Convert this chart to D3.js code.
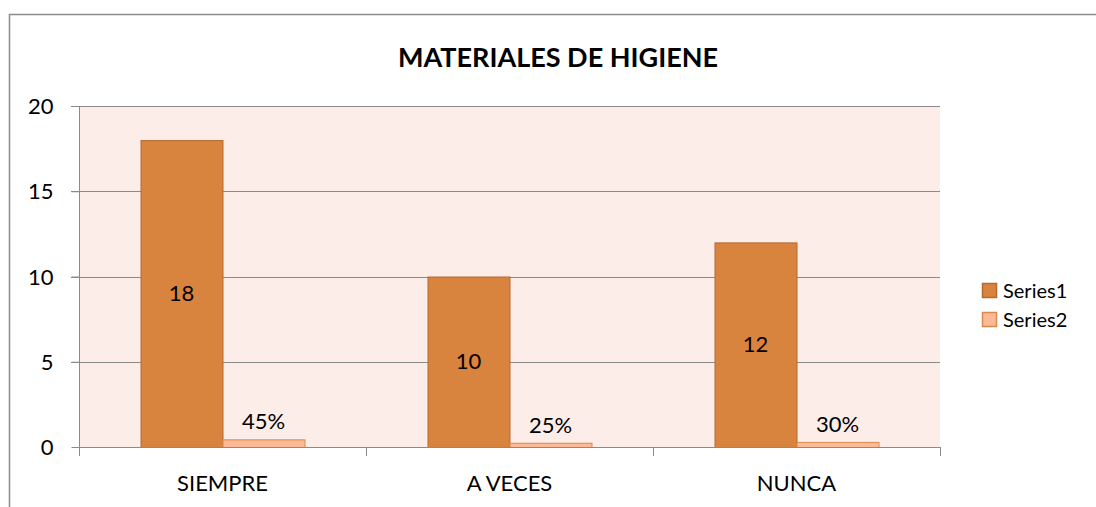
<!DOCTYPE html>
<html><head><meta charset="utf-8">
<script src="https://cdn.jsdelivr.net/npm/d3@7"></script>
<style>body{margin:0;background:#fff}svg{display:block}text{font-family:Lato,"Open Sans",sans-serif}</style>
</head><body><svg id="c" width="1096" height="507"></svg>
<script>
const categories = ["SIEMPRE", "A VECES", "NUNCA"];
const series1 = [18, 10, 12];
const series2 = [0.45, 0.25, 0.30];
const seriesNames = ["Series1", "Series2"];
const yTicks = [0, 5, 10, 15, 20];
const title = "MATERIALES DE HIGIENE";

const svg = d3.select("#c");
const m = {l: 79, r: 940, t: 106, b: 447};
const colors = ["#D9843E", "#FBB995"];
const strokes = ["#B5692F", "#D98A4E"];
const FS = 22;

svg.append("rect").attr("x", 9.5).attr("y", 14.5).attr("width", 1100).attr("height", 520)
  .attr("fill", "#fff").attr("stroke", "#8c8c8c").attr("stroke-width", 1.5);

const x = d3.scaleBand().domain(categories).range([m.l, m.r]).paddingInner(0).paddingOuter(0);
const y = d3.scaleLinear().domain([0, 20]).range([m.b, m.t]);
const x2 = d3.scaleBand().domain([0, 1]).range([0, x.bandwidth()]).paddingInner(0).paddingOuter(0.75);

svg.append("rect").attr("x", m.l).attr("y", m.t).attr("width", m.r - m.l).attr("height", m.b - m.t).attr("fill", "#FCEDE8");

svg.append("g").selectAll("line").data(yTicks.filter(d => d > 0)).join("line")
  .attr("x1", m.l - 8).attr("x2", m.r).attr("y1", d => Math.round(y(d)) + 0.5).attr("y2", d => Math.round(y(d)) + 0.5)
  .attr("stroke", "#8a8a8a").attr("stroke-width", 1);

const ya = svg.append("g").attr("transform", `translate(${m.l + 0.5},0)`)
  .call(d3.axisLeft(y).tickValues(yTicks).tickSize(8).tickPadding(18));
ya.select(".domain").remove();
ya.selectAll("line").attr("stroke", "#8a8a8a");
ya.selectAll("text").attr("font-size", FS).attr("font-family", "Lato").attr("fill", "#000").attr("dy", "0.35em");
svg.append("line").attr("x1", m.l + 0.5).attr("x2", m.l + 0.5).attr("y1", m.t).attr("y2", m.b + 8)
  .attr("stroke", "#8a8a8a");

const data = categories.map((c, i) => ({c, v: [series1[i], series2[i]]}));
const g = svg.append("g");
data.forEach(d => {
  d.v.forEach((v, s) => {
    const bx = x(d.c) + x2(s);
    g.append("rect").attr("x", bx + 0.5).attr("y", y(v) + 0.5).attr("width", x2.bandwidth()).attr("height", y(0) - y(v))
      .attr("fill", colors[s]).attr("stroke", strokes[s]).attr("stroke-width", 1);
    if (s === 0) {
      g.append("text").attr("x", bx + x2.bandwidth() / 2).attr("y", (y(v) + y(0)) / 2).attr("dy", "0.35em")
        .attr("text-anchor", "middle").attr("font-size", FS).text(v);
    } else {
      g.append("text").attr("x", bx + x2.bandwidth() / 2).attr("y", y(v) - 10)
        .attr("text-anchor", "middle").attr("font-size", FS).text(d3.format(".0%")(v));
    }
  });
});

svg.append("line").attr("x1", m.l).attr("x2", m.r + 1).attr("y1", m.b + 0.5).attr("y2", m.b + 0.5).attr("stroke", "#8a8a8a");
const xt = categories.map(c => x(c)).concat([m.r]);
svg.append("g").selectAll("line").data(xt).join("line")
  .attr("x1", d => Math.round(d) + 0.5).attr("x2", d => Math.round(d) + 0.5).attr("y1", m.b).attr("y2", m.b + 9)
  .attr("stroke", "#8a8a8a");
svg.append("g").selectAll("text").data(categories).join("text")
  .attr("x", d => x(d) + x.bandwidth() / 2).attr("y", 491).attr("text-anchor", "middle").attr("font-size", FS).text(d => d);

svg.append("text").attr("x", 558).attr("y", 67).attr("text-anchor", "middle").attr("font-size", 27)
  .attr("font-weight", "bold").text(title);

const lg = svg.append("g");
seriesNames.forEach((n, i) => {
  const ly = 291 + i * 29;
  lg.append("rect").attr("x", 982.5).attr("y", ly - 7.5).attr("width", 14).attr("height", 14)
    .attr("fill", colors[i]).attr("stroke", strokes[i]).attr("stroke-width", 1.5);
  lg.append("text").attr("x", 1003).attr("y", ly).attr("dy", "0.35em").attr("font-size", 20).text(n);
});
</script></body></html>
